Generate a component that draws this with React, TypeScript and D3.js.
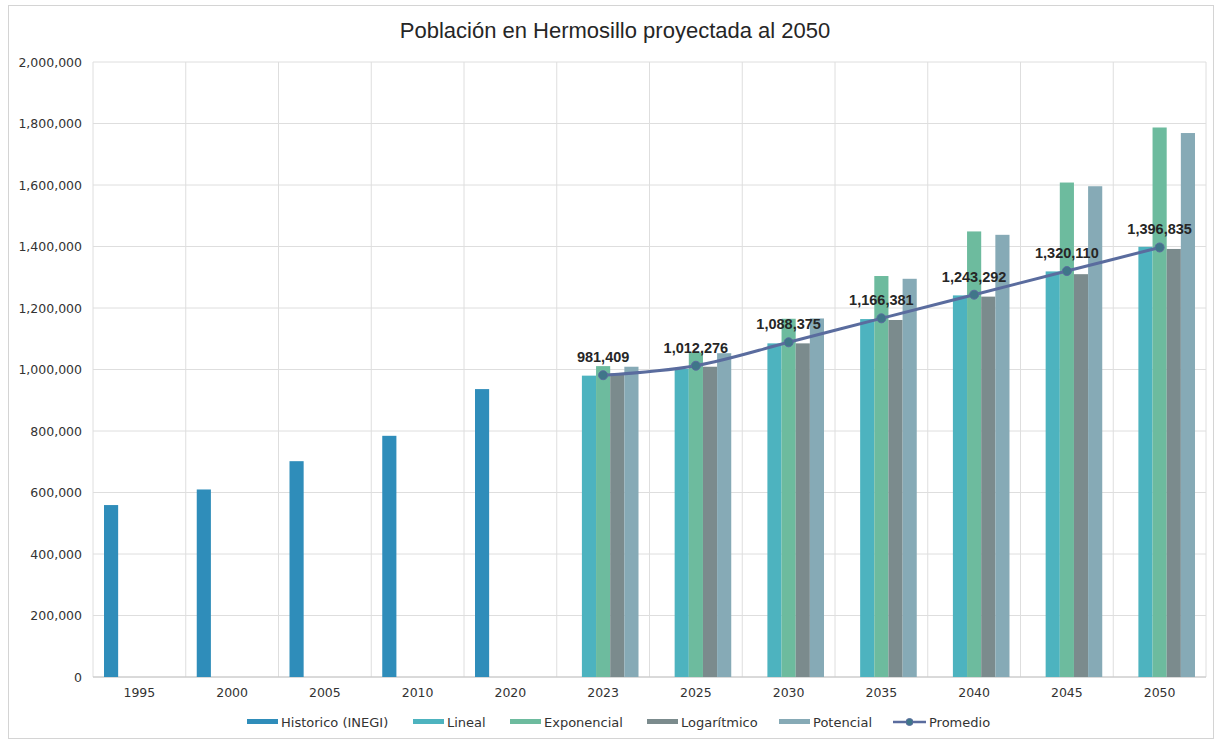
import React from "react";
import * as d3 from "d3";

// chart values
const categories = ["1995", "2000", "2005", "2010", "2020", "2023", "2025", "2030", "2035", "2040", "2045", "2050"];
const historico = [559154, 609829, 701838, 784342, 936263, null, null, null, null, null, null, null];
const lineal = [null, null, null, null, null, 980000, 1002000, 1085000, 1164000, 1241000, 1319000, 1399000];
const exponencial = [null, null, null, null, null, 1011000, 1055000, 1165000, 1304000, 1449000, 1608000, 1787000];
const logaritmico = [null, null, null, null, null, 987000, 1009000, 1085000, 1161000, 1237000, 1310000, 1392000];
const potencial = [null, null, null, null, null, 1009000, 1053000, 1166000, 1295000, 1438000, 1596000, 1769000];
const promedio = [null, null, null, null, null, 981409, 1012276, 1088375, 1166381, 1243292, 1320110, 1396835];
const yTicks = [0, 200000, 400000, 600000, 800000, 1000000, 1200000, 1400000, 1600000, 1800000, 2000000];
const title = "Población en Hermosillo proyectada al 2050";

const barSeries = [
  { name: "Historico (INEGI)", values: historico, color: "#2f8dba" },
  { name: "Lineal", values: lineal, color: "#4db3bf" },
  { name: "Exponencial", values: exponencial, color: "#6dbb9e" },
  { name: "Logarítmico", values: logaritmico, color: "#7b8b8d" },
  { name: "Potencial", values: potencial, color: "#86aab6" }
];
const lineColor = "#5a6c9e";
const markerColor = "#3f7689";

const width = 1221;
const height = 743;
const margin = { top: 62, right: 15, bottom: 66, left: 93 };
const font = "'DejaVu Sans', sans-serif";

// legend layout (x of each swatch)
const legendX = [247, 413, 510, 647, 779];
const legendPromedioX = 893;
const legendY = 722;

export default function App() {
  const x = d3
    .scaleBand()
    .domain(categories)
    .range([margin.left, width - margin.right])
    .padding(0);
  const step = x.step();
  const inner = d3
    .scaleBand()
    .domain(barSeries.map(s => s.name))
    .range([11, step - 11]);
  const y = d3
    .scaleLinear()
    .domain([0, 2000000])
    .range([height - margin.bottom, margin.top]);
  const fmt = d3.format(",");

  const points = categories
    .map((c, i) => ({ c, v: promedio[i] }))
    .filter(d => d.v != null);
  const line = d3
    .line()
    .x(d => x(d.c) + step / 2)
    .y(d => y(d.v))
    .curve(d3.curveCatmullRom.alpha(0.5));

  const boundaries = categories.map(c => x(c)).concat([width - margin.right]);

  return (
    <svg
      width={width}
      height={height}
      style={{ position: "absolute", left: 0, top: 0, background: "#fff" }}
    >
      <rect x={8.5} y={5.5} width={1205} height={733} fill="#fff" stroke="#d4d4d4" />
      <text
        x={615}
        y={38}
        textAnchor="middle"
        fontFamily="'Liberation Sans', Arial, sans-serif"
        fontSize={22}
        fill="#262626"
      >
        {title}
      </text>

      {/* grid */}
      {yTicks.map(t => (
        <line
          key={"h" + t}
          x1={margin.left}
          x2={width - margin.right}
          y1={y(t)}
          y2={y(t)}
          stroke="#dedede"
        />
      ))}
      {boundaries.map((b, i) => (
        <line
          key={"v" + i}
          x1={b}
          x2={b}
          y1={margin.top}
          y2={height - margin.bottom}
          stroke="#dedede"
        />
      ))}
      <line
        x1={margin.left}
        x2={width - margin.right}
        y1={y(0)}
        y2={y(0)}
        stroke="#c4c4c4"
      />

      {/* y labels */}
      {yTicks.map(t => (
        <text
          key={"yl" + t}
          x={82}
          y={y(t) + 4.5}
          textAnchor="end"
          fontFamily={font}
          fontSize={12.5}
          fill="#333"
        >
          {fmt(t)}
        </text>
      ))}

      {/* x labels */}
      {categories.map(c => (
        <text
          key={"xl" + c}
          x={x(c) + step / 2}
          y={697}
          textAnchor="middle"
          fontFamily={font}
          fontSize={12.5}
          fill="#333"
        >
          {c}
        </text>
      ))}

      {/* bars */}
      {barSeries.map(s =>
        categories.map((c, i) =>
          s.values[i] == null ? null : (
            <rect
              key={s.name + c}
              x={x(c) + inner(s.name)}
              y={y(s.values[i])}
              width={inner.bandwidth()}
              height={y(0) - y(s.values[i])}
              fill={s.color}
            />
          )
        )
      )}

      {/* promedio */}
      <path d={line(points)} fill="none" stroke={lineColor} strokeWidth={3} />
      {points.map(d => (
        <circle
          key={"p" + d.c}
          cx={x(d.c) + step / 2}
          cy={y(d.v)}
          r={4.5}
          fill={markerColor}
          stroke={lineColor}
          strokeWidth={1}
        />
      ))}
      {points.map(d => (
        <text
          key={"pl" + d.c}
          x={x(d.c) + step / 2}
          y={y(d.v) - 13}
          textAnchor="middle"
          fontFamily="'Liberation Sans', Arial, sans-serif"
          fontWeight="bold"
          fontSize={14.5}
          fill="#262626"
        >
          {fmt(d.v)}
        </text>
      ))}

      {/* legend */}
      {barSeries.map((s, i) => (
        <g key={"lg" + s.name}>
          <rect x={legendX[i]} y={legendY - 3} width={31} height={5} fill={s.color} />
          <text
            x={legendX[i] + 34}
            y={legendY + 4.5}
            fontFamily={font}
            fontSize={13}
            fill="#333"
          >
            {s.name}
          </text>
        </g>
      ))}
      <line
        x1={legendPromedioX}
        x2={legendPromedioX + 33}
        y1={legendY}
        y2={legendY}
        stroke={lineColor}
        strokeWidth={2.5}
      />
      <circle cx={legendPromedioX + 16.5} cy={legendY} r={3.5} fill={markerColor} stroke={lineColor} />
      <text
        x={legendPromedioX + 36}
        y={legendY + 4.5}
        fontFamily={font}
        fontSize={13}
        fill="#333"
      >
        Promedio
      </text>
    </svg>
  );
}
